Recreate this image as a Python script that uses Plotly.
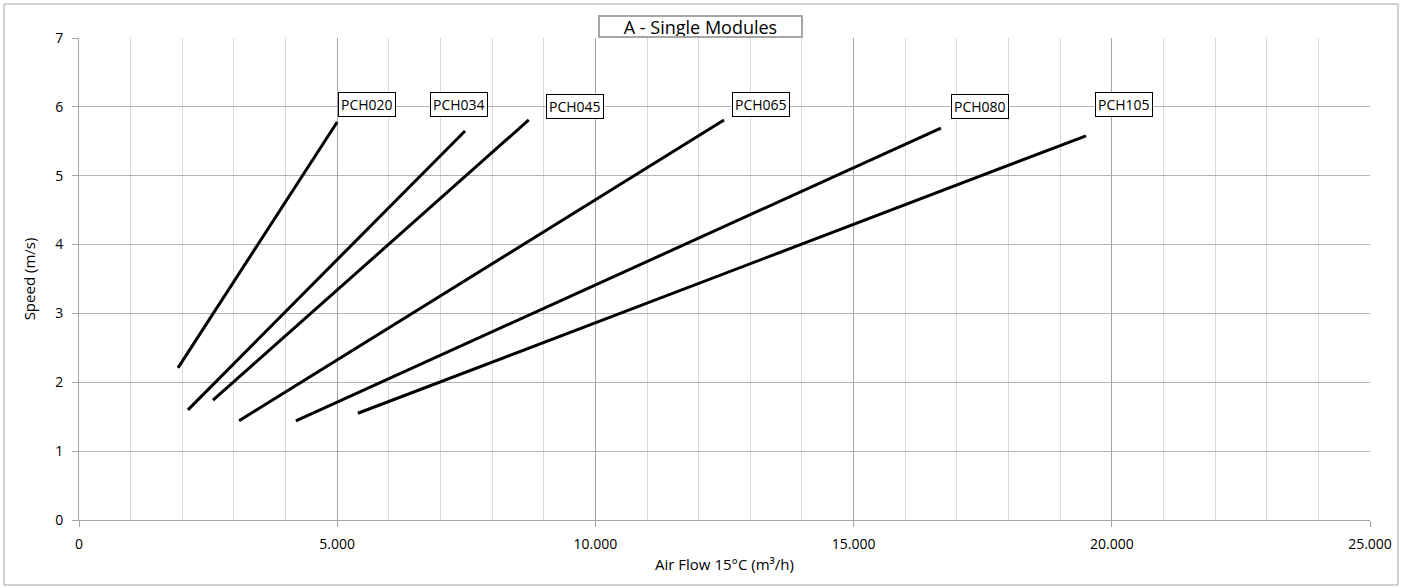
import plotly.graph_objects as go

models = ["PCH020", "PCH034", "PCH045", "PCH065", "PCH080", "PCH105"]
flow_start = [1917, 2110, 2595, 3100, 4200, 5400]
flow_end = [5000, 7475, 8710, 12490, 16690, 19500]
speed_start = [2.21, 1.60, 1.74, 1.44, 1.44, 1.55]
speed_end = [5.78, 5.65, 5.81, 5.81, 5.69, 5.58]
label_x = [5577, 7360, 9600, 13200, 17450, 20240]
label_y = [6.03, 6.03, 6.00, 6.03, 6.00, 6.03]

W, H = 1408, 588
ML, MR, MT, MB = 79, 38, 38, 68
FONT = "Open Sans"

fig = go.Figure()
for i, m in enumerate(models):
    fig.add_trace(go.Scatter(
        x=[flow_start[i], flow_end[i]], y=[speed_start[i], speed_end[i]],
        mode="lines", line=dict(color="black", width=3), name=m, showlegend=False))
    fig.add_annotation(x=label_x[i], y=label_y[i], text=m, showarrow=False,
                       font=dict(family=FONT, size=14, color="black"),
                       bgcolor="white", bordercolor="black", borderwidth=1, borderpad=2)

pw = W - ML - MR
ph = H - MT - MB
def px(x):
    return (x - ML) / pw
def py(y):
    return (H - MB - y) / ph

fig.add_shape(type="rect", xref="paper", yref="paper",
              x0=px(4), x1=px(1398), y0=py(585), y1=py(4),
              line=dict(color="#a6a6a6", width=1), layer="below")

fig.add_annotation(xref="paper", yref="paper", x=px(700), y=py(26), xanchor="center", yanchor="middle",
                   text="A - Single Modules",
                   showarrow=False, font=dict(family=FONT, size=18, color="black"),
                   bgcolor="white", bordercolor="#a6a6a6", borderwidth=2, borderpad=0,
                   width=201, height=19)

fig.update_layout(
    width=W, height=H, margin=dict(l=ML, r=MR, t=MT, b=MB),
    paper_bgcolor="white", plot_bgcolor="white",
    separators=",.",
    font=dict(family=FONT, size=14, color="black"),
    xaxis=dict(range=[0, 25000], dtick=5000, tick0=0, tickformat=",.0f",
               showgrid=True, gridcolor="#a6a6a6", gridwidth=1,
               minor=dict(dtick=1000, showgrid=True, gridcolor="#d9d9d9", gridwidth=1),
               showline=True, linecolor="#a6a6a6", linewidth=1,
               ticks="outside", ticklen=6, tickcolor="#a6a6a6",
               zeroline=False, tickfont=dict(size=14), ticklabelstandoff=5,
               title=dict(text="Air Flow 15°C (m³/h)", font=dict(size=15, color="black"), standoff=7)),
    yaxis=dict(range=[0, 7], dtick=1, tick0=0,
               showgrid=True, gridcolor="#b4b4b4", gridwidth=1,
               showline=True, linecolor="#a6a6a6", linewidth=1,
               ticks="outside", ticklen=6, tickcolor="#a6a6a6",
               zeroline=False, tickfont=dict(size=14), ticklabelstandoff=6,
               title=dict(text="Speed (m/s)", font=dict(size=15, color="black"), standoff=15)),
)

fig.write_html("out.html", config={"displayModeBar": False},
               post_script="document.body.style.margin='0';document.body.style.overflow='hidden';")
